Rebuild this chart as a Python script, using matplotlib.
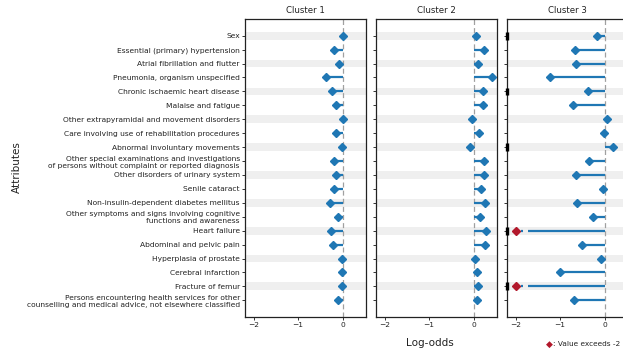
import numpy as np
import matplotlib
matplotlib.use("Agg")
import matplotlib.pyplot as plt

attributes = [
    "Sex",
    "Essential (primary) hypertension",
    "Atrial fibrillation and flutter",
    "Pneumonia, organism unspecified",
    "Chronic ischaemic heart disease",
    "Malaise and fatigue",
    "Other extrapyramidal and movement disorders",
    "Care involving use of rehabilitation procedures",
    "Abnormal involuntary movements",
    "Other special examinations and investigations\nof persons without complaint or reported diagnosis",
    "Other disorders of urinary system",
    "Senile cataract",
    "Non-insulin-dependent diabetes mellitus",
    "Other symptoms and signs involving cognitive\nfunctions and awareness",
    "Heart failure",
    "Abdominal and pelvic pain",
    "Hyperplasia of prostate",
    "Cerebral infarction",
    "Fracture of femur",
    "Persons encountering health services for other\ncounselling and medical advice, not elsewhere classified",
]

cluster_names = ["Cluster 1", "Cluster 2", "Cluster 3"]

cluster1 = [0.02, -0.19, -0.08, -0.38, -0.24, -0.14, 0.02, -0.15, -0.02, -0.19,
            -0.15, -0.19, -0.28, -0.10, -0.26, -0.21, -0.02, -0.01, -0.02, -0.11]
cluster2 = [0.05, 0.23, 0.11, 0.41, 0.21, 0.21, -0.04, 0.12, -0.07, 0.24,
            0.24, 0.18, 0.25, 0.14, 0.29, 0.27, 0.04, 0.08, 0.10, 0.08]
cluster3 = [-0.16, -0.66, -0.65, -1.23, -0.38, -0.71, 0.05, -0.02, 0.20, -0.36,
            -0.64, -0.04, -0.62, -0.27, -2.6, -0.51, -0.08, -1.01, -2.4, -0.68]

# values below this are drawn clipped with a red marker
lower_limit = -2.0
x_ticks = [-2, -1, 0]
flag_rows = [0, 4, 8, 14, 18]

blue = "#1f77b4"
red = "#b2182b"
band = "#efefef"

fig = plt.figure(figsize=(6.23, 3.49), dpi=100)
W, H = 623.0, 349.0
lefts = [245, 376, 507]
width = 121
top_px, bot_px = 19, 317

n = len(attributes)
rows = np.arange(n)
all_values = [cluster1, cluster2, cluster3]

axes = []
for k, (name, vals) in enumerate(zip(cluster_names, all_values)):
    ax = fig.add_axes([lefts[k] / W, 1 - bot_px / H, width / W, (bot_px - top_px) / H])
    axes.append(ax)
    ax.set_xlim(-2.2, 0.53)
    ax.set_ylim(n - 1 + 1.2, -1.2)
    for r in rows[::2]:
        ax.axhspan(r - 0.28, r + 0.28, color=band, lw=0, zorder=0)
    ax.axvline(0, color="#a0a0a0", lw=0.9, ls=(0, (4, 2.5)), zorder=1)
    vals = np.asarray(vals, dtype=float)
    for r, v in zip(rows, vals):
        if v < lower_limit:
            ax.plot([0, lower_limit + 0.27], [r, r], color=blue, lw=1.6,
                    solid_capstyle="butt", zorder=2)
            ax.plot([lower_limit + 0.12, lower_limit + 0.17], [r, r], color=blue,
                    lw=1.6, solid_capstyle="butt", zorder=2)
            ax.plot([lower_limit], [r], marker="D", ms=4.4, color=red, zorder=3)
        else:
            ax.plot([0, v], [r, r], color=blue, lw=1.6, solid_capstyle="butt", zorder=2)
            ax.plot([v], [r], marker="D", ms=4.4, color=blue, zorder=3)
    ax.set_title(name, fontsize=6.2, pad=4, color="#222222")
    ax.set_xticks(x_ticks)
    ax.set_xticklabels(["\u2212%d" % abs(t) if t < 0 else "%d" % t for t in x_ticks])
    ax.set_yticks(rows)
    if k == 0:
        ax.set_yticklabels(attributes, fontsize=5.4, color="#222222")
    else:
        ax.set_yticklabels([])
    ax.tick_params(axis="both", length=2.2, width=0.7, color="#333333",
                   labelsize=5.4, labelcolor="#222222", pad=1.5)
    for s in ax.spines.values():
        s.set_linewidth(0.9)
        s.set_color("#222222")

# highlighted rows on the last panel
ax3 = axes[2]
x0 = ax3.get_xlim()[0]
for r in flag_rows:
    ax3.plot([x0, x0], [r - 0.28, r + 0.28], color="black", lw=2.4,
             solid_capstyle="butt", clip_on=False, zorder=5)

fig.text(17 / W, 1 - 167 / H, "Attributes", rotation=90, ha="center", va="center",
         fontsize=7.5, color="#222222")
fig.text(430 / W, 1 - 343 / H, "Log-odds", ha="center", va="center",
         fontsize=7.5, color="#222222")
fig.text(549 / W, 1 - 344 / H, "\u25c6", color=red, fontsize=6.5, ha="center", va="center")
fig.text(553 / W, 1 - 344 / H, ": Value exceeds -2", color="#222222", fontsize=5.3,
         ha="left", va="center")

fig.savefig("out.png", dpi=100)
